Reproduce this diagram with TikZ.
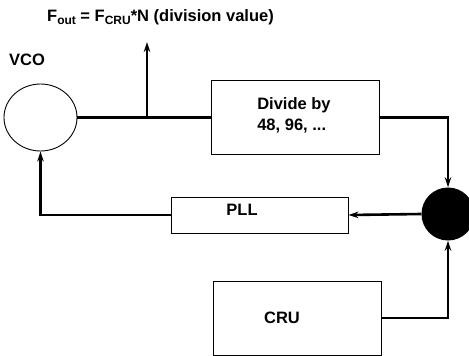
\documentclass[tikz,border=0pt]{standalone}
\usepackage{fontspec}
\setmainfont{Liberation Sans}
\usetikzlibrary{shapes.geometric,arrows.meta}
\tikzset{
  box/.style={draw, line width=0.9pt, inner sep=0pt},
  conn/.style={line width=2.6pt},
  arr/.style={conn, -{Stealth[length=10pt,width=6.5pt]}},
  lbl/.style={font=\fontsize{16.5}{21}\selectfont\bfseries, inner sep=0pt},
}
\begin{document}
\begin{tikzpicture}[x=1pt,y=-1pt]
\useasboundingbox (0,0) rectangle (469,356);
\clip (0,0) rectangle (469,356);
\node[draw, ellipse, line width=0.9pt, minimum width=73pt, minimum height=67pt, inner sep=0pt] (vco) at (40.5,117.5) {};
\node[lbl] (vcolbl) at (27,60) {VCO};
\node[lbl] (fout) at (160.5,17) {F\raisebox{-0.35ex}{\fontsize{12}{12}\selectfont out} = F\raisebox{-0.35ex}{\fontsize{12}{12}\selectfont CRU}*N (division value)};
\node[box, minimum width=168pt, minimum height=74pt] (div) at (295,117.5) {};
\node[lbl, align=left] (divtxt) at (294,115) {Divide by\\48, 96, ...};
\node[box, minimum width=177pt, minimum height=36pt] (pll) at (259.5,215) {};
\node[lbl] (plltxt) at (242,210) {PLL};
\node[box, minimum width=168pt, minimum height=74pt] (cru) at (297,318) {};
\node[lbl] (crutxt) at (282,318) {CRU};
\node[circle, fill=black, minimum size=53pt, inner sep=0pt] (sum) at (448,214) {};
\coordinate (tap) at (147,117.5);
\coordinate (top) at (147,42);
\draw[conn] (vco.east) -- (div.west);
\draw[arr] (tap) -- (top);
\draw[arr] (div.east) -| (sum.north);
\draw[arr] (sum.west) -- (pll.east);
\draw[arr] (pll.west) -| (vco.south);
\draw[arr] (cru.east) -| (sum.south);
\end{tikzpicture}
\end{document}
